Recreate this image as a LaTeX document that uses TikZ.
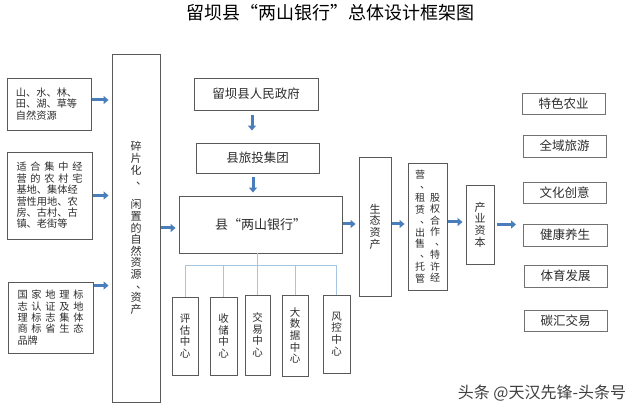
\documentclass[tikz,border=0pt]{standalone}
\usepackage{fontspec}
\setmainfont{Noto Sans CJK SC}
\usetikzlibrary{arrows.meta}

\definecolor{boxline}{RGB}{89,89,89}
\definecolor{arrowblue}{RGB}{74,126,187}
\definecolor{treeblue}{RGB}{165,198,226}
\definecolor{txtgray}{RGB}{45,45,45}

% vertical-writing comma: pushed to the upper right of its cell
\newcommand{\vd}{\makebox[1em][l]{\hspace*{0.5em}\smash{\raisebox{0.15em}{、}}}}
% one justified line of the source boxes
\newcommand{\jl}[1]{\makebox[66pt][s]{#1}}

\begin{document}
\begin{tikzpicture}[x=1pt, y=-1pt,
  every node/.style={inner sep=0pt, text=txtgray},
  box/.style={draw=boxline, line width=0.9pt, align=center},
  srcbox/.style={box, align=left, font=\fontsize{10.2}{11.4}\selectfont},
  tallbox/.style={box, font=\fontsize{11}{11.6}\selectfont},
  ctrbox/.style={box, font=\fontsize{10.5}{11.7}\selectfont},
  vcol/.style={align=center, font=\fontsize{10}{11.5}\selectfont},
  flowbox/.style={box, font=\fontsize{12.5}{14}\selectfont},
  tradebox/.style={box, draw=boxline!85, minimum width=83pt, minimum height=21pt, font=\fontsize{12.5}{14}\selectfont},
  blk/.style={-{Triangle[length=5pt, width=8pt]}, line width=3pt, draw=arrowblue, shorten >=3pt, shorten <=1pt},
  tree/.style={draw=treeblue, line width=1pt}]
  \useasboundingbox (0,0) rectangle (640,414);
  \fill[white] (0,0) rectangle (640,414);

  \node[font=\fontsize{18}{20}\selectfont, text=black] (title) at (330,13) {留坝县“两山银行”总体设计框架图};

  % left: resources
  \node[srcbox, minimum width=84pt, minimum height=52pt] (src1) at (49,104) {\jl{山、水、林、}\\\jl{田、湖、草等}\\自然资源};
  \node[srcbox, minimum width=85pt, minimum height=87pt] (src2) at (49.5,195.5) {\jl{适\hfil 合\hfil 集\hfil 中\hfil 经}\\\jl{营\hfil 的\hfil 农\hfil 村\hfil 宅}\\\jl{基地、集体经}\\\jl{营性用地、农}\\\jl{房、古村、古}\\镇、老街等};
  \node[srcbox, minimum width=85pt, minimum height=71pt] (src3) at (50.5,317.5) {\jl{国\hfil 家\hfil 地\hfil 理\hfil 标}\\\jl{志\hfil 认\hfil 证\hfil 及\hfil 地}\\\jl{理\hfil 标\hfil 志\hfil 集\hfil 体}\\\jl{商\hfil 标\hfil 省\hfil 生\hfil 态}\\品牌};
  \node[tallbox, minimum width=48pt, minimum height=348pt] (big) at (136,228) {碎\\片\\化\\\vd\\\mbox{}\\闲\\置\\的\\自\\然\\资\\源\\\vd\\资\\产};

  % middle: government chain and bank
  \node[flowbox, minimum width=124pt, minimum height=32pt] (gov) at (256,94) {留坝县人民政府};
  \node[flowbox, minimum width=123pt, minimum height=30pt] (ltg) at (257.5,158) {县旅投集团};
  \node[flowbox, font=\fontsize{13}{15}\selectfont, minimum width=163pt, minimum height=57pt] (bank) at (260.5,224.5) {县“两山银行”};

  \node[ctrbox, minimum width=26pt, minimum height=78pt] (pg) at (185,336) {评\\估\\中\\心};
  \node[ctrbox, minimum width=27pt, minimum height=78pt] (sc) at (223.5,336) {收\\储\\中\\心};
  \node[ctrbox, minimum width=25pt, minimum height=80pt] (jy) at (257.5,335) {交\\易\\中\\心};
  \node[ctrbox, minimum width=26pt, minimum height=81pt] (dsj) at (295,335.5) {大\\数\\据\\中\\心};
  \node[ctrbox, minimum width=27pt, minimum height=78pt] (fk) at (336.5,334) {风\\控\\中\\心};

  % right: assets to capital
  \node[tallbox, minimum width=32pt, minimum height=139pt] (stzc) at (375,226.5) {生\\态\\资\\产};
  \node[box, minimum width=39pt, minimum height=127pt] (ops) at (427.5,226.5) {};
  \node[vcol] (opsl) at (420,226.5) {营\\\vd\\租\\赁\\\vd\\出\\售\\\vd\\托\\管};
  \node[vcol] (opsr) at (435,237.5) {股\\权\\合\\作\\\vd\\特\\许\\经};
  \node[tallbox, minimum width=28pt, minimum height=79pt] (cyzb) at (480,224.5) {产\\业\\资\\本};
  \coordinate (cyout) at (516,224.5);

  \node[tradebox] (ts) at (563.5,103.5) {特色农业};
  \node[tradebox, minimum height=22pt] (qy) at (564.5,146) {全域旅游};
  \node[tradebox] (wh) at (564.5,192.5) {文化创意};
  \node[tradebox, minimum width=84pt, minimum height=22pt] (jk) at (565,235) {健康养生};
  \node[tradebox, minimum height=22pt] (ty) at (565.5,276) {体育发展};
  \node[tradebox] (th) at (565.5,320.5) {碳汇交易};

  \node[font=\fontsize{16}{18}\selectfont, text=black!75] (mark) at (542,393) {头条 @天汉先锋-头条号};

  % arrows
  \draw[blk] ([yshift=4pt]src1.east) -- ([yshift=4pt]src1.east -| big.west);
  \draw[blk] (src2.east) -- (src2.east -| big.west);
  \draw[blk] ([yshift=-4pt]src3.north east) -- ([yshift=-4pt]src3.north east -| big.west);
  \draw[blk] ([yshift=-3.5pt]bank.west -| big.east) -- ([yshift=-3.5pt]bank.west);
  \draw[blk, shorten <=5pt, shorten >=12pt] ([xshift=-4pt]gov.south) -- ([xshift=-4pt]gov.south |- ltg.north);
  \draw[blk, shorten <=4pt, shorten >=3pt] ([xshift=-4.5pt]ltg.south) -- ([xshift=-4.5pt]ltg.south |- bank.north);
  \draw[blk] ([yshift=0.5pt]bank.east) -- ([yshift=0.5pt]bank.east -| stzc.west);
  \draw[blk] ([yshift=2.5pt]stzc.east) -- ([yshift=2.5pt]stzc.east -| ops.west);
  \draw[blk] ([yshift=4.5pt]ops.east) -- ([yshift=4.5pt]ops.east -| cyzb.west);
  \draw[blk, shorten <=3pt, shorten >=0pt] (cyzb.east) -- (cyout);

  % bank tree to the five centres
  \coordinate (bus) at (257,266);
  \draw[tree] (bank.south -| bus) -- (bus);
  \draw[tree] (pg.north |- bus) -- (fk.north |- bus);
  \foreach \c in {pg,sc,jy,dsj,fk}
    \draw[tree] (\c.north |- bus) -- (\c.north);
\end{tikzpicture}
\end{document}
